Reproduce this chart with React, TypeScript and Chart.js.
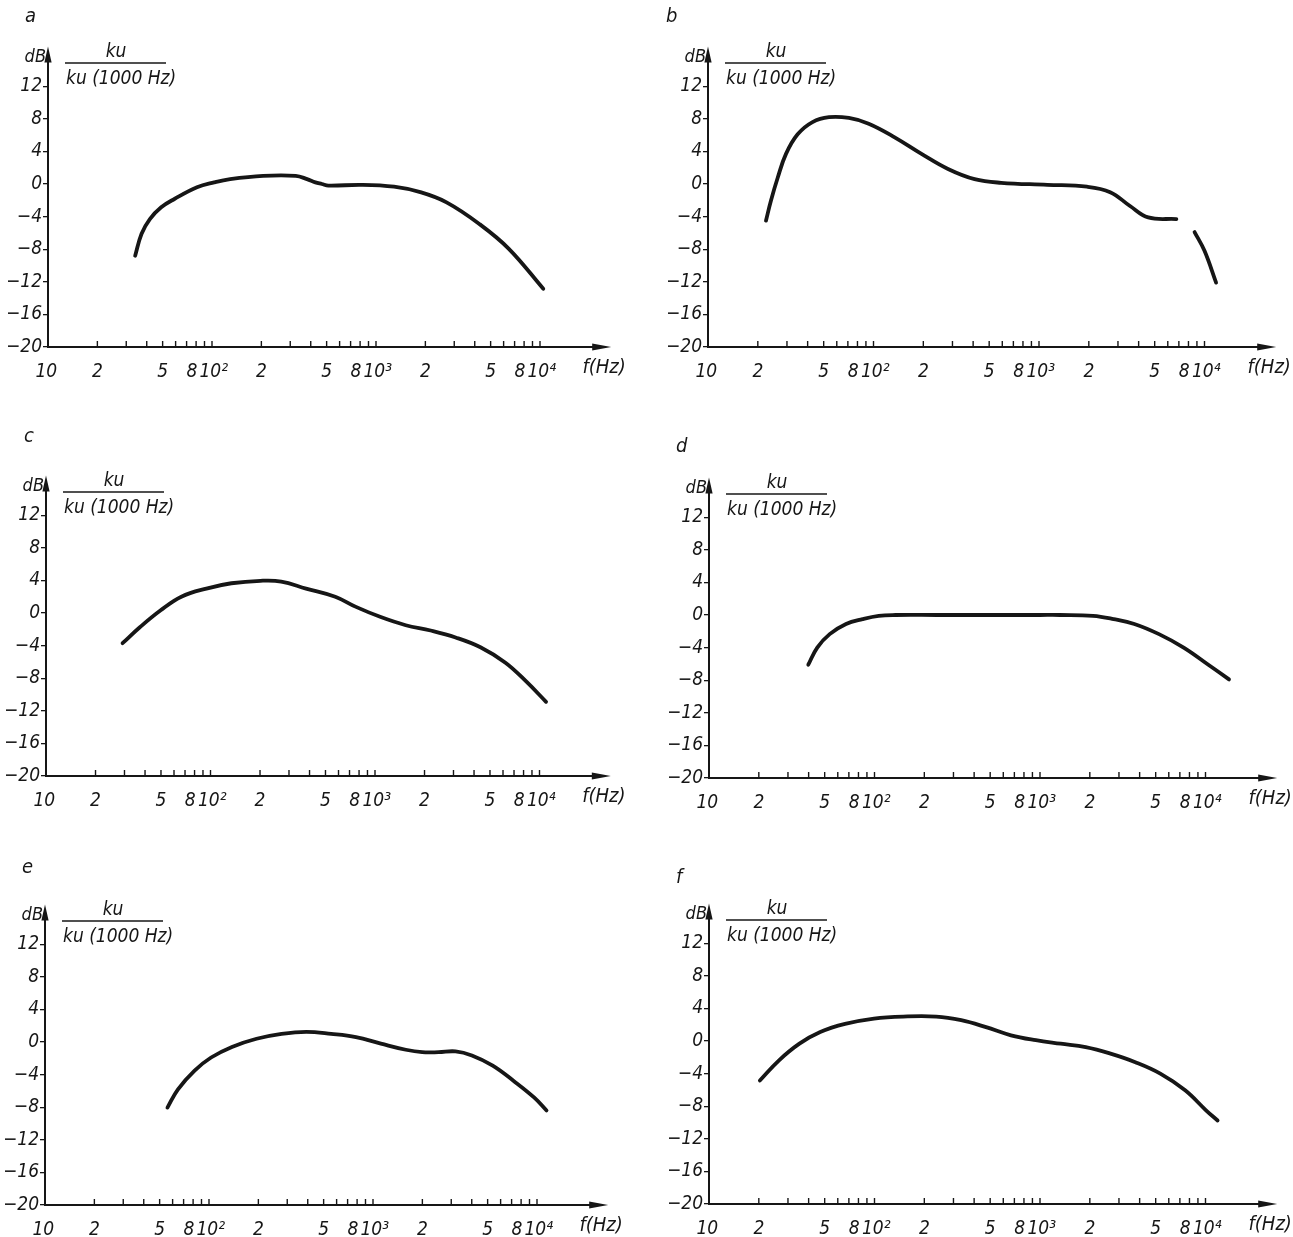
import React, { useEffect, useRef } from "react";
import { Chart, registerables } from "chart.js";
Chart.register(...registerables);

// ---------- data (frequency in Hz, level in dB) ----------
const aFreq = [34, 37.2, 41.8, 49, 59, 81, 103, 129, 205, 324, 380, 427, 468, 513, 813, 1288, 1862, 2692, 4266, 6457, 10470];
const aDb = [-8.8, -6.1, -4.3, -2.86, -1.84, -0.4, 0.2, 0.6, 1.0, 1.0, 0.6, 0.2, 0.0, -0.2, -0.1, -0.33, -1.0, -2.25, -4.9, -7.95, -12.85];

const bFreq = [22.4, 24, 26.4, 29.6, 34.8, 42.8, 53.8, 71, 93.5, 135, 195, 282, 408, 590, 1122, 1950, 2692, 3548, 4571, 6761, 7700, 8710, 10000, 11750];
const bDb = [-4.5, -2.05, 0.8, 3.7, 6.1, 7.6, 8.2, 8.1, 7.4, 5.7, 3.7, 1.85, 0.6, 0.15, -0.1, -0.33, -1.0, -2.7, -4.1, -4.3, null, -5.9, -8.2, -12.1];

const cFreq = [29.2, 37.2, 49.8, 66.5, 94.4, 134, 201, 269, 381, 573, 766, 1084, 1538, 2178, 3090, 4375, 6209, 8299, 10960];
const cDb = [-3.7, -1.75, 0.33, 2.0, 3.0, 3.65, 3.95, 3.86, 3.0, 2.0, 0.75, -0.5, -1.5, -2.15, -3.0, -4.2, -6.1, -8.4, -10.9];

const dFreq = [39.8, 45.1, 53.6, 67.3, 84.7, 106, 134, 238, 1000, 1318, 2089, 2786, 3715, 5236, 7379, 10400, 13870];
const dDb = [-6.1, -4.0, -2.35, -1.1, -0.5, -0.1, 0, 0, 0, 0, -0.1, -0.5, -1.1, -2.35, -4.0, -6.1, -7.9];

const eFreq = [55.8, 64.7, 81.7, 103, 138, 195, 277, 392, 556, 787, 1117, 1585, 1995, 2512, 3184, 4009, 5370, 7178, 9594, 11430];
const eDb = [-8.05, -5.8, -3.5, -1.9, -0.6, 0.4, 1.0, 1.25, 1.0, 0.6, -0.2, -0.95, -1.25, -1.25, -1.15, -1.65, -2.9, -4.75, -6.8, -8.4];

const fFreq = [20.3, 26.4, 35.2, 47, 66.4, 99.3, 149, 236, 334, 472, 668, 944, 1334, 1888, 2667, 3767, 5333, 7534, 10070, 11830];
const fDb = [-4.85, -2.4, -0.33, 1.1, 2.1, 2.75, 3.0, 3.0, 2.55, 1.7, 0.7, 0.1, -0.33, -0.75, -1.55, -2.6, -4.0, -6.05, -8.5, -9.75];

// ---------- axes ----------
const xTickValues = [
  10, 20, 30, 40, 50, 60, 70, 80, 90,
  100, 200, 300, 400, 500, 600, 700, 800, 900,
  1000, 2000, 3000, 4000, 5000, 6000, 7000, 8000, 9000, 10000,
];
const xLabeledValues = [10, 20, 50, 80, 100, 200, 500, 800, 1000, 2000, 5000, 8000, 10000];
const xLabelTexts = ["10", "2", "5", "8", "10\u00B2", "2", "5", "8", "10\u00B3", "2", "5", "8", "10\u2074"];
const yTicks = [-20, -16, -12, -8, -4, 0, 4, 8, 12];
const X_MIN = 10;
const X_MAX = 22000;
const Y_MIN = -20;
const Y_MAX = 16;

const panelLetters = ["a", "b", "c", "d", "e", "f"];
const axisTitle = "dB";
const xTitle = "f(Hz)";
const ratioNum = "ku";
const ratioDen = "ku (1000 Hz)";

// ---------- styling / geometry ----------
const INK = "#161616";
const FONT = "'Liberation Sans Narrow', 'DejaVu Sans Condensed', 'Liberation Sans', Arial, sans-serif";
const PX_PER_DB = 8.15;
const Y_AXIS_W = 40;
const X_AXIS_H = 45;

type PanelGeom = {
  freq: number[];
  db: (number | null)[];
  letter: string;
  cl: number; ct: number; w: number; h: number;
  L: number; B: number; decade: number;
  lx: number; ly: number;
};

const panels: PanelGeom[] = [
  { freq: aFreq, db: aDb, letter: panelLetters[0], cl: 0, ct: 0, w: 646, h: 420, L: 48, B: 347, decade: 164, lx: 30, ly: 17 },
  { freq: bFreq, db: bDb, letter: panelLetters[1], cl: 646, ct: 0, w: 647, h: 420, L: 62, B: 347, decade: 165.5, lx: 25, ly: 17 },
  { freq: cFreq, db: cDb, letter: panelLetters[2], cl: 0, ct: 420, w: 646, h: 430, L: 46, B: 356, decade: 164.5, lx: 29, ly: 17 },
  { freq: dFreq, db: dDb, letter: panelLetters[3], cl: 646, ct: 420, w: 647, h: 430, L: 63, B: 358, decade: 165.5, lx: 35, ly: 27 },
  { freq: eFreq, db: eDb, letter: panelLetters[4], cl: 0, ct: 850, w: 646, h: 430, L: 45, B: 355, decade: 164, lx: 27, ly: 18 },
  { freq: fFreq, db: fDb, letter: panelLetters[5], cl: 646, ct: 850, w: 647, h: 430, L: 63, B: 354, decade: 165.5, lx: 35, ly: 28 },
];

function xLabel(v: number): string {
  const i = xLabeledValues.indexOf(Math.round(v));
  if (i < 0) return "";
  const t = xLabelTexts[i];
  // nudge the digit pairs apart the way the hand-lettered axis has them
  if (t === "8") return t + "\u2002";
  if (t.length > 2) return "\u2009" + t;
  if (t === "10") return t + "\u2009";
  return t;
}

function yLabel(v: number): string {
  return v < 0 ? "\u2212" + Math.abs(v) : String(v);
}

function makeDecor(p: PanelGeom) {
  return {
    id: "decor-" + p.letter,
    afterDraw(chart: any) {
      const ctx: CanvasRenderingContext2D = chart.ctx;
      const { left, right, top, bottom } = chart.chartArea;
      const xs = chart.scales.x;
      ctx.save();
      ctx.strokeStyle = INK;
      ctx.fillStyle = INK;

      // y arrow head
      ctx.lineWidth = 2;
      ctx.beginPath();
      ctx.moveTo(left, top + 2);
      ctx.lineTo(left, top - 2);
      ctx.stroke();
      ctx.beginPath();
      ctx.moveTo(left, top - 7);
      ctx.lineTo(left - 3.6, top + 9);
      ctx.lineTo(left + 3.6, top + 9);
      ctx.closePath();
      ctx.fill();

      // x arrow head
      ctx.beginPath();
      ctx.moveTo(right + 15, bottom);
      ctx.lineTo(right - 4, bottom - 3.6);
      ctx.lineTo(right - 4, bottom + 3.6);
      ctx.closePath();
      ctx.fill();

      // small tick marks rising from the frequency axis
      ctx.lineWidth = 1.4;
      for (const v of xTickValues) {
        if (v === X_MIN) continue;
        const px = xs.getPixelForValue(v);
        ctx.beginPath();
        ctx.moveTo(px, bottom);
        ctx.lineTo(px, bottom - 6);
        ctx.stroke();
      }

      // texts
      ctx.font = `italic 20px ${FONT}`;
      ctx.textBaseline = "middle";
      ctx.textAlign = "center";
      ctx.fillText(xTitle, right + 8, bottom + 21);

      ctx.font = `italic 20px ${FONT}`;
      ctx.textAlign = "left";
      ctx.fillText(p.letter, p.lx - 5, p.ly);

      ctx.font = `italic 18px ${FONT}`;
      ctx.textAlign = "right";
      ctx.fillText(axisTitle, left - 2, p.B - 290);

      ctx.font = `italic 19px ${FONT}`;
      ctx.textAlign = "center";
      ctx.fillText(ratioNum, left + 68, p.B - 295);
      ctx.lineWidth = 1.5;
      ctx.beginPath();
      ctx.moveTo(left + 17, p.B - 284);
      ctx.lineTo(left + 118, p.B - 284);
      ctx.stroke();
      ctx.textAlign = "left";
      ctx.fillText(ratioDen, left + 18, p.B - 268);
      ctx.restore();
    },
  };
}

function Panel({ p }: { p: PanelGeom }) {
  const ref = useRef<HTMLCanvasElement>(null);
  useEffect(() => {
    const canvas = ref.current;
    if (!canvas) return;
    const top = p.B - (Y_MAX - Y_MIN) * PX_PER_DB;
    const right = p.L + p.decade * Math.log10(X_MAX / X_MIN);
    const tickFont = { family: FONT, style: "italic" as const, size: 19 };
    const chart = new Chart(canvas, {
      type: "line",
      data: {
        datasets: [
          {
            data: p.freq.map((f, i) => ({ x: f, y: p.db[i] })) as any,
            borderColor: INK,
            borderWidth: 3.8,
            pointRadius: 0,
            tension: 0.4,
            spanGaps: false,
            fill: false,
            borderCapStyle: "round",
            borderJoinStyle: "round",
          },
        ],
      },
      options: {
        responsive: false,
        animation: false,
        events: [],
        layout: {
          padding: {
            left: p.L - Y_AXIS_W,
            right: p.w - right,
            top: top,
            bottom: p.h - p.B - X_AXIS_H,
          },
        },
        plugins: { legend: { display: false }, tooltip: { enabled: false } },
        scales: {
          x: {
            type: "logarithmic",
            min: X_MIN,
            max: X_MAX,
            afterBuildTicks: (s: any) => {
              s.ticks = xTickValues.map((v) => ({ value: v }));
            },
            afterFit: (s: any) => {
              s.height = X_AXIS_H;
            },
            grid: { display: false },
            border: { display: true, color: INK, width: 2 },
            ticks: {
              autoSkip: false,
              maxRotation: 0,
              minRotation: 0,
              padding: 6,
              color: INK,
              font: tickFont,
              callback: (v: any) => xLabel(Number(v)),
            },
          },
          y: {
            type: "linear",
            min: Y_MIN,
            max: Y_MAX,
            afterBuildTicks: (s: any) => {
              s.ticks = yTicks.map((v) => ({ value: v }));
            },
            afterFit: (s: any) => {
              s.width = Y_AXIS_W;
            },
            grid: { display: true, drawOnChartArea: false, drawTicks: true, tickLength: 5, color: INK, lineWidth: 1.3 },
            border: { display: true, color: INK, width: 2 },
            ticks: {
              autoSkip: false,
              padding: 1,
              color: INK,
              font: tickFont,
              callback: (v: any) => yLabel(Number(v)),
            },
          },
        },
      } as any,
      plugins: [makeDecor(p)],
    });
    return () => chart.destroy();
  }, [p]);
  return (
    <canvas
      ref={ref}
      width={p.w}
      height={p.h}
      style={{ position: "absolute", left: p.cl, top: p.ct, width: p.w, height: p.h }}
    />
  );
}

export default function App() {
  return (
    <div style={{ position: "absolute", left: 0, top: 0, width: 1293, height: 1237, background: "#fff", overflow: "hidden" }}>
      {panels.map((p) => (
        <Panel key={p.letter} p={p} />
      ))}
    </div>
  );
}
